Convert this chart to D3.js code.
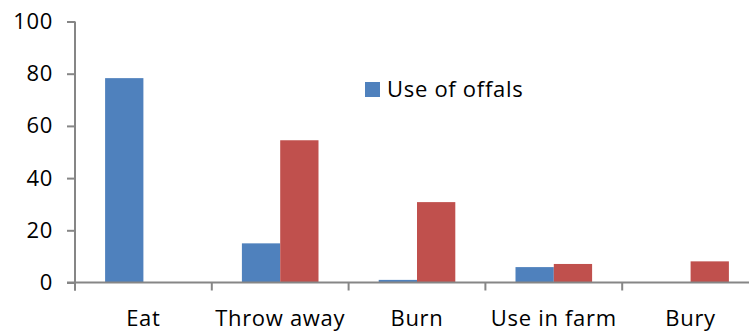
<!DOCTYPE html>
<html>
<head>
<meta charset="utf-8">
<script src="https://cdn.jsdelivr.net/npm/d3@7"></script>
<style>
  html, body { margin: 0; padding: 0; background: #fff; }
  svg { display: block; }
  text { font-family: "Open Sans", "Liberation Sans", sans-serif; fill: #000; letter-spacing: 0.7px; }
</style>
</head>
<body>
<svg id="chart" width="749" height="332"></svg>
<script>
// Disposal of slaughter by-products, percent of respondents
const categories = ["Eat", "Throw away", "Burn", "Use in farm", "Bury"];
const offalUse = [78.3, 15, 1, 5.9, 0];
const secondSeries = [0, 54.5, 30.8, 7.1, 8.1];
const yTicks = [0, 20, 40, 60, 80, 100];
const legendLabel = "Use of offals";

const colors = { blue: "#4F81BD", red: "#C0504D", axis: "#868686" };

const svg = d3.select("#chart");
const margin = { left: 75, top: 21.5, bottom: 282.5 };
const bandW = 136.8;
const fontSize = 22;

const x = d3.scaleBand()
  .domain(categories)
  .range([margin.left, margin.left + bandW * categories.length])
  .paddingInner(0).paddingOuter(0);

const y = d3.scaleLinear().domain([0, 100]).range([margin.bottom, margin.top]);

// Bars: two series side by side, centred on each category
const barW = 38.3;
const series = [
  { values: offalUse, color: colors.blue, offset: -barW },
  { values: secondSeries, color: colors.red, offset: 0 }
];
series.forEach(s => {
  svg.append("g").selectAll("rect")
    .data(categories.map((c, i) => ({ c, v: s.values[i] })))
    .join("rect")
    .attr("x", d => x(d.c) + x.bandwidth() / 2 + s.offset)
    .attr("width", barW)
    .attr("y", d => y(d.v))
    .attr("height", d => y(0) - y(d.v))
    .attr("fill", s.color);
});

// Y axis
const yAxis = d3.axisLeft(y).tickValues(yTicks).tickSize(8).tickPadding(14);
const gy = svg.append("g").attr("transform", `translate(${margin.left},0)`).call(yAxis);
gy.select(".domain").attr("stroke", colors.axis).attr("stroke-width", 2)
  .attr("d", `M0,${y(100)}V${y(0) + 8}`);
gy.selectAll(".tick line").attr("stroke", colors.axis).attr("stroke-width", 2);
gy.selectAll(".tick text").attr("font-size", fontSize).attr("font-family", "Open Sans, sans-serif").attr("fill", "#000");

// X axis with ticks at category boundaries
const gx = svg.append("g").attr("transform", `translate(0,${y(0)})`);
gx.append("line").attr("x1", margin.left - 8).attr("x2", 749)
  .attr("stroke", colors.axis).attr("stroke-width", 2);
const boundaries = categories.map(c => x(c));
gx.selectAll("line.tk").data(boundaries).join("line").attr("class", "tk")
  .attr("x1", d => d).attr("x2", d => d).attr("y1", 0).attr("y2", 8)
  .attr("stroke", colors.axis).attr("stroke-width", 2);
gx.selectAll("text").data(categories).join("text")
  .attr("x", d => x(d) + x.bandwidth() / 2)
  .attr("y", 43)
  .attr("text-anchor", "middle")
  .attr("font-size", fontSize)
  .text(d => d);

// Legend
const lg = svg.append("g").attr("transform", "translate(365,82)");
lg.append("rect").attr("width", 15).attr("height", 15).attr("fill", colors.blue);
lg.append("text").attr("x", 22).attr("y", 15).attr("font-size", fontSize).text(legendLabel);
</script>
</body>
</html>
